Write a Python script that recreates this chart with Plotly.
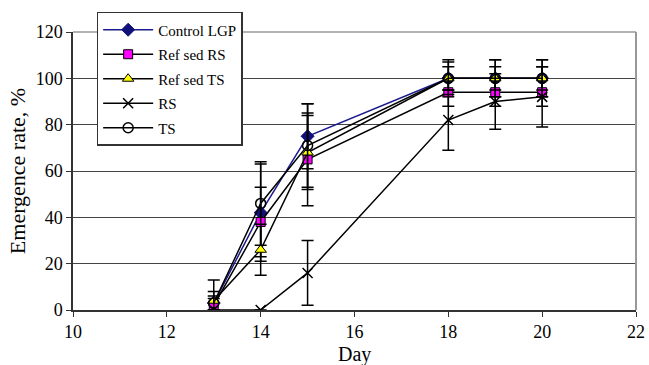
import plotly.graph_objects as go

days = [13, 14, 15, 18, 19, 20]
control_lgp = [3, 42, 75, 100, 100, 100]
control_lgp_err = [10, 21, 14, 8, 8, 8]
ref_sed_rs = [2, 38, 65, 94, 94, 94]
ref_sed_rs_err = [3, 15, 20, 6, 6, 6]
ref_sed_ts = [4, 26, 68, 100, 100, 100]
ref_sed_ts_err = [4, 11, 16, 5, 5, 5]
rs = [0, 0, 16, 82, 90, 92]
rs_err = [0, 0, 14, 13, 12, 13]
ts = [3, 46, 71, 100, 100, 100]
ts_err = [3, 18, 18, 7, 8, 8]

x_ticks = [10, 12, 14, 16, 18, 20, 22]
y_ticks = [0, 20, 40, 60, 80, 100, 120]

FONT = "Liberation Serif, Times New Roman, serif"

series = [
    ("Control LGP", control_lgp, control_lgp_err, "#1a1a8c",
     dict(symbol="diamond", size=10, color="#10107a", line=dict(color="#10107a", width=1))),
    ("Ref sed RS", ref_sed_rs, ref_sed_rs_err, "black",
     dict(symbol="square", size=9, color="#ff00ff", line=dict(color="black", width=1))),
    ("Ref sed TS", ref_sed_ts, ref_sed_ts_err, "black",
     dict(symbol="triangle-up", size=10, color="#ffff00", line=dict(color="black", width=1))),
    ("RS", rs, rs_err, "black",
     dict(symbol="x-thin", size=10, color="black", line=dict(color="black", width=1.5))),
    ("TS", ts, ts_err, "black",
     dict(symbol="circle-open", size=10, color="black", line=dict(color="black", width=1.5))),
]

fig = go.Figure()
for i, (name, vals, err, lc, mk) in enumerate(series):
    fig.add_trace(go.Scatter(
        x=days, y=vals, name=name, mode="lines+markers",
        line=dict(color=lc, width=1.5),
        marker=mk,
        legendgroup=f"g{i}",
        error_y=dict(type="data", array=err, visible=True, color="black",
                     thickness=1.5, width=6),
    ))

fig.update_layout(
    width=649, height=365,
    margin=dict(l=73, r=13, t=32, b=55, autoexpand=False),
    paper_bgcolor="white", plot_bgcolor="white",
    font=dict(family=FONT, size=18, color="black"),
    showlegend=True,
    legend=dict(
        x=0.042, y=1.072, xanchor="left", yanchor="top",
        bgcolor="white", bordercolor="#333333", borderwidth=1.5,
        font=dict(family=FONT, size=15, color="black"),
        tracegroupgap=2, traceorder="grouped",
        itemwidth=50,
    ),
    xaxis=dict(
        range=[10, 22], tickvals=x_ticks, ticktext=[str(v) for v in x_ticks],
        showgrid=False, zeroline=False, automargin=False,
        showline=True, linecolor="#333333", linewidth=1.5, mirror=False,
        ticks="outside", ticklen=5, tickcolor="#333333",
        tickfont=dict(family=FONT, size=18),
    ),
    yaxis=dict(
        range=[0, 120], tickvals=y_ticks, ticktext=[str(v) for v in y_ticks],
        showgrid=True, gridcolor="#444444", gridwidth=1.2, zeroline=False,
        automargin=False,
        showline=True, linecolor="#333333", linewidth=1.5,
        ticks="outside", ticklen=5, tickcolor="#333333",
        tickfont=dict(family=FONT, size=18),
        title=dict(text="Emergence rate, %", font=dict(family=FONT, size=22), standoff=4),
    ),
    annotations=[
        dict(text="Day", xref="paper", yref="paper", x=0.5, y=0, yshift=-44,
             xanchor="center", yanchor="middle", showarrow=False,
             font=dict(family=FONT, size=20, color="black")),
    ],
    shapes=[
        dict(type="line", xref="paper", yref="paper", x0=1, x1=1, y0=0, y1=1,
             line=dict(color="#999999", width=2)),
        dict(type="line", xref="paper", yref="paper", x0=0, x1=1, y0=1, y1=1,
             line=dict(color="#999999", width=1.5)),
    ],
)

fig.write_html("out.html", config={"displayModeBar": False},
               post_script="document.body.style.margin='0';")
